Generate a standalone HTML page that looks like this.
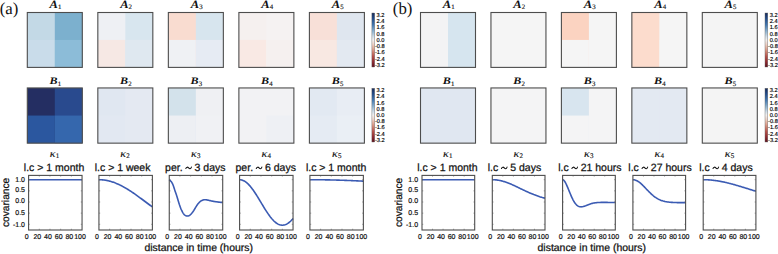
<!DOCTYPE html>
<html><head><meta charset="utf-8"><title>figure</title>
<style>
html,body{margin:0;padding:0;background:#fff;}
body{width:778px;height:254px;overflow:hidden;}
svg{display:block;}
text{fill:#111;text-rendering:geometricPrecision;}
.pl{font-family:"Liberation Serif", serif;font-size:16.8px;}
.ml{font-family:"Liberation Serif", serif;font-weight:bold;font-style:italic;font-size:10.6px;}
.sub{font-family:"Liberation Serif", serif;font-weight:normal;font-style:normal;font-size:6.8px;stroke:#111;stroke-width:0.15px;}
.kl{font-family:"Liberation Serif", serif;font-style:italic;font-size:10.4px;stroke:#111;stroke-width:0.12px;}
.ksub{font-family:"Liberation Serif", serif;font-style:normal;font-size:7.0px;stroke:#111;stroke-width:0.15px;}
.tt{font-family:"Liberation Sans", sans-serif;font-size:10.5px;stroke:#111;stroke-width:0.25px;}
.ghost{fill:none;stroke:none;}
.tl{font-family:"Liberation Sans", sans-serif;font-size:7px;stroke:#111;stroke-width:0.2px;}
.cb{font-family:"Liberation Sans", sans-serif;font-size:5.7px;fill:#000;stroke:#000;stroke-width:0.15px;}
.al{font-family:"Liberation Sans", sans-serif;font-size:10.2px;stroke:#111;stroke-width:0.25px;}
</style></head>
<body>
<svg width="778" height="254" viewBox="0 0 778 254">
<defs>
<linearGradient id="cb0" x1="0" y1="0" x2="0" y2="1"><stop offset="0" stop-color="#172a58"/><stop offset="0.1" stop-color="#214a88"/><stop offset="0.22" stop-color="#4177b0"/><stop offset="0.34" stop-color="#8db3d0"/><stop offset="0.44" stop-color="#d3dfe9"/><stop offset="0.5" stop-color="#f2f0ef"/><stop offset="0.58" stop-color="#efd2c6"/><stop offset="0.68" stop-color="#dc9c88"/><stop offset="0.8" stop-color="#b8534a"/><stop offset="0.9" stop-color="#922c31"/><stop offset="1" stop-color="#5c111e"/></linearGradient>
<linearGradient id="cb1" x1="0" y1="0" x2="0" y2="1"><stop offset="0" stop-color="#172a58"/><stop offset="0.1" stop-color="#214a88"/><stop offset="0.22" stop-color="#4177b0"/><stop offset="0.34" stop-color="#8db3d0"/><stop offset="0.44" stop-color="#d3dfe9"/><stop offset="0.5" stop-color="#f2f0ef"/><stop offset="0.58" stop-color="#efd2c6"/><stop offset="0.68" stop-color="#dc9c88"/><stop offset="0.8" stop-color="#b8534a"/><stop offset="0.9" stop-color="#922c31"/><stop offset="1" stop-color="#5c111e"/></linearGradient>
<linearGradient id="cb2" x1="0" y1="0" x2="0" y2="1"><stop offset="0" stop-color="#172a58"/><stop offset="0.1" stop-color="#214a88"/><stop offset="0.22" stop-color="#4177b0"/><stop offset="0.34" stop-color="#8db3d0"/><stop offset="0.44" stop-color="#d3dfe9"/><stop offset="0.5" stop-color="#f2f0ef"/><stop offset="0.58" stop-color="#efd2c6"/><stop offset="0.68" stop-color="#dc9c88"/><stop offset="0.8" stop-color="#b8534a"/><stop offset="0.9" stop-color="#922c31"/><stop offset="1" stop-color="#5c111e"/></linearGradient>
<linearGradient id="cb3" x1="0" y1="0" x2="0" y2="1"><stop offset="0" stop-color="#172a58"/><stop offset="0.1" stop-color="#214a88"/><stop offset="0.22" stop-color="#4177b0"/><stop offset="0.34" stop-color="#8db3d0"/><stop offset="0.44" stop-color="#d3dfe9"/><stop offset="0.5" stop-color="#f2f0ef"/><stop offset="0.58" stop-color="#efd2c6"/><stop offset="0.68" stop-color="#dc9c88"/><stop offset="0.8" stop-color="#b8534a"/><stop offset="0.9" stop-color="#922c31"/><stop offset="1" stop-color="#5c111e"/></linearGradient>
</defs>
<rect width="778" height="254" fill="#fff"/>
<text x="-0.3" y="14.0" class="pl">(a)</text>
<rect x="27.3" y="12.5" width="55" height="54.9" fill="#c3d9e6"/>
<rect x="54.8" y="12.5" width="27.5" height="54.9" fill="#7cb0ce"/>
<rect x="27.3" y="39.95" width="27.5" height="27.45" fill="#c9dcea"/>
<rect x="54.8" y="39.95" width="27.5" height="27.45" fill="#8cbcd8"/>
<rect x="27.3" y="12.5" width="55" height="54.9" fill="none" stroke="#4d4d4d" stroke-width="1.1"/>
<text transform="translate(53.8,7.6) scale(1.12,1)" class="ml" style="font-size:11.2px" text-anchor="middle">A</text>
<text x="59.8" y="8.7" class="sub" text-anchor="middle">1</text>
<rect x="97.83" y="12.5" width="55" height="54.9" fill="#eef0f4"/>
<rect x="125.33" y="12.5" width="27.5" height="54.9" fill="#d8e6ef"/>
<rect x="97.83" y="39.95" width="27.5" height="27.45" fill="#f6e8e4"/>
<rect x="125.33" y="39.95" width="27.5" height="27.45" fill="#dfe8f0"/>
<rect x="97.83" y="12.5" width="55" height="54.9" fill="none" stroke="#4d4d4d" stroke-width="1.1"/>
<text transform="translate(124.33,7.6) scale(1.12,1)" class="ml" style="font-size:11.2px" text-anchor="middle">A</text>
<text x="130.32" y="8.7" class="sub" text-anchor="middle">2</text>
<rect x="168.35" y="12.5" width="55" height="54.9" fill="#f9dcd0"/>
<rect x="195.85" y="12.5" width="27.5" height="54.9" fill="#d7e5ee"/>
<rect x="168.35" y="39.95" width="27.5" height="27.45" fill="#eff1f4"/>
<rect x="195.85" y="39.95" width="27.5" height="27.45" fill="#e6ebf3"/>
<rect x="168.35" y="12.5" width="55" height="54.9" fill="none" stroke="#4d4d4d" stroke-width="1.1"/>
<text transform="translate(194.85,7.6) scale(1.12,1)" class="ml" style="font-size:11.2px" text-anchor="middle">A</text>
<text x="200.85" y="8.7" class="sub" text-anchor="middle">3</text>
<rect x="238.88" y="12.5" width="55" height="54.9" fill="#f5f0ef"/>
<rect x="266.38" y="12.5" width="27.5" height="54.9" fill="#f5f2f2"/>
<rect x="238.88" y="39.95" width="27.5" height="27.45" fill="#f9e9e4"/>
<rect x="266.38" y="39.95" width="27.5" height="27.45" fill="#f5f0ef"/>
<rect x="238.88" y="12.5" width="55" height="54.9" fill="none" stroke="#4d4d4d" stroke-width="1.1"/>
<text transform="translate(265.38,7.6) scale(1.12,1)" class="ml" style="font-size:11.2px" text-anchor="middle">A</text>
<text x="271.38" y="8.7" class="sub" text-anchor="middle">4</text>
<rect x="309.4" y="12.5" width="55" height="54.9" fill="#f8e0d8"/>
<rect x="336.9" y="12.5" width="27.5" height="54.9" fill="#dfe6ef"/>
<rect x="309.4" y="39.95" width="27.5" height="27.45" fill="#f8e8e2"/>
<rect x="336.9" y="39.95" width="27.5" height="27.45" fill="#e3e9f1"/>
<rect x="309.4" y="12.5" width="55" height="54.9" fill="none" stroke="#4d4d4d" stroke-width="1.1"/>
<text transform="translate(335.9,7.6) scale(1.12,1)" class="ml" style="font-size:11.2px" text-anchor="middle">A</text>
<text x="341.9" y="8.7" class="sub" text-anchor="middle">5</text>
<rect x="371.9" y="13" width="2.8" height="54" fill="url(#cb0)" stroke="#666" stroke-width="0.4"/>
<text x="376.6" y="16.95" class="cb">3.2</text>
<text x="376.6" y="23.17" class="cb">2.4</text>
<text x="376.6" y="29.4" class="cb">1.6</text>
<text x="376.6" y="35.62" class="cb">0.8</text>
<text x="376.6" y="41.85" class="cb">0.0</text>
<text x="374.9" y="48.08" class="cb">-0.8</text>
<text x="374.9" y="54.3" class="cb">-1.6</text>
<text x="374.9" y="60.52" class="cb">-2.4</text>
<text x="374.9" y="66.75" class="cb">-3.2</text>
<rect x="27.3" y="87.95" width="55" height="55.2" fill="#242e62"/>
<rect x="54.8" y="87.95" width="27.5" height="55.2" fill="#294a8e"/>
<rect x="27.3" y="115.55" width="27.5" height="27.6" fill="#2b579f"/>
<rect x="54.8" y="115.55" width="27.5" height="27.6" fill="#3567ad"/>
<rect x="27.3" y="87.95" width="55" height="55.2" fill="none" stroke="#4d4d4d" stroke-width="1.1"/>
<text transform="translate(53.55,83.5) scale(1.22,1)" class="ml" style="font-size:9.9px" text-anchor="middle">B</text>
<text x="59.5" y="85.5" class="sub" text-anchor="middle">1</text>
<rect x="97.83" y="87.95" width="55" height="55.2" fill="#e0e7f1"/>
<rect x="125.33" y="87.95" width="27.5" height="55.2" fill="#e4e9f2"/>
<rect x="97.83" y="115.55" width="27.5" height="27.6" fill="#e2e8f2"/>
<rect x="125.33" y="115.55" width="27.5" height="27.6" fill="#e4e9f2"/>
<rect x="97.83" y="87.95" width="55" height="55.2" fill="none" stroke="#4d4d4d" stroke-width="1.1"/>
<text transform="translate(124.08,83.5) scale(1.22,1)" class="ml" style="font-size:9.9px" text-anchor="middle">B</text>
<text x="130.03" y="85.5" class="sub" text-anchor="middle">2</text>
<rect x="168.35" y="87.95" width="55" height="55.2" fill="#d3e2eb"/>
<rect x="195.85" y="87.95" width="27.5" height="55.2" fill="#eff0f3"/>
<rect x="168.35" y="115.55" width="27.5" height="27.6" fill="#edeff3"/>
<rect x="195.85" y="115.55" width="27.5" height="27.6" fill="#f0f1f4"/>
<rect x="168.35" y="87.95" width="55" height="55.2" fill="none" stroke="#4d4d4d" stroke-width="1.1"/>
<text transform="translate(194.6,83.5) scale(1.22,1)" class="ml" style="font-size:9.9px" text-anchor="middle">B</text>
<text x="200.55" y="85.5" class="sub" text-anchor="middle">3</text>
<rect x="238.88" y="87.95" width="55" height="55.2" fill="#f2f2f4"/>
<rect x="266.38" y="87.95" width="27.5" height="55.2" fill="#f2f2f4"/>
<rect x="238.88" y="115.55" width="27.5" height="27.6" fill="#f2f2f4"/>
<rect x="266.38" y="115.55" width="27.5" height="27.6" fill="#eef0f4"/>
<rect x="238.88" y="87.95" width="55" height="55.2" fill="none" stroke="#4d4d4d" stroke-width="1.1"/>
<text transform="translate(265.12,83.5) scale(1.22,1)" class="ml" style="font-size:9.9px" text-anchor="middle">B</text>
<text x="271.07" y="85.5" class="sub" text-anchor="middle">4</text>
<rect x="309.4" y="87.95" width="55" height="55.2" fill="#e2e9f2"/>
<rect x="336.9" y="87.95" width="27.5" height="55.2" fill="#e8edf4"/>
<rect x="309.4" y="115.55" width="27.5" height="27.6" fill="#e5ebf3"/>
<rect x="336.9" y="115.55" width="27.5" height="27.6" fill="#eaeff5"/>
<rect x="309.4" y="87.95" width="55" height="55.2" fill="none" stroke="#4d4d4d" stroke-width="1.1"/>
<text transform="translate(335.65,83.5) scale(1.22,1)" class="ml" style="font-size:9.9px" text-anchor="middle">B</text>
<text x="341.6" y="85.5" class="sub" text-anchor="middle">5</text>
<rect x="371.9" y="88.3" width="2.8" height="53.7" fill="url(#cb1)" stroke="#666" stroke-width="0.4"/>
<text x="376.6" y="92.25" class="cb">3.2</text>
<text x="376.6" y="98.44" class="cb">2.4</text>
<text x="376.6" y="104.62" class="cb">1.6</text>
<text x="376.6" y="110.81" class="cb">0.8</text>
<text x="376.6" y="117" class="cb">0.0</text>
<text x="374.9" y="123.19" class="cb">-0.8</text>
<text x="374.9" y="129.38" class="cb">-1.6</text>
<text x="374.9" y="135.56" class="cb">-2.4</text>
<text x="374.9" y="141.75" class="cb">-3.2</text>
<text transform="translate(52.7,156.7) scale(1.15,1)" class="kl" text-anchor="middle">κ</text>
<text x="57.6" y="158.3" class="ksub" text-anchor="middle">1</text>
<text x="54.05" y="170.9" class="tt" text-anchor="middle">l.c &gt; 1 month</text>
<path d="M28.6,179.7 L29.27,179.7 L29.94,179.7 L30.6,179.7 L31.27,179.7 L31.94,179.7 L32.61,179.7 L33.28,179.7 L33.95,179.7 L34.61,179.7 L35.28,179.7 L35.95,179.7 L36.62,179.7 L37.29,179.7 L37.95,179.7 L38.62,179.7 L39.29,179.7 L39.96,179.7 L40.63,179.7 L41.29,179.7 L41.96,179.7 L42.63,179.7 L43.3,179.7 L43.97,179.7 L44.64,179.7 L45.3,179.7 L45.97,179.7 L46.64,179.7 L47.31,179.7 L47.98,179.7 L48.64,179.7 L49.31,179.7 L49.98,179.7 L50.65,179.7 L51.32,179.7 L51.98,179.7 L52.65,179.7 L53.32,179.7 L53.99,179.7 L54.66,179.7 L55.33,179.7 L55.99,179.7 L56.66,179.7 L57.33,179.7 L58,179.7 L58.67,179.7 L59.33,179.7 L60,179.7 L60.67,179.7 L61.34,179.7 L62.01,179.7 L62.67,179.7 L63.34,179.7 L64.01,179.7 L64.68,179.7 L65.35,179.7 L66.02,179.7 L66.68,179.7 L67.35,179.7 L68.02,179.7 L68.69,179.7 L69.36,179.7 L70.02,179.7 L70.69,179.7 L71.36,179.7 L72.03,179.7 L72.7,179.7 L73.36,179.7 L74.03,179.7 L74.7,179.7 L75.37,179.7 L76.04,179.7 L76.7,179.7 L77.37,179.7 L78.04,179.7 L78.71,179.7 L79.38,179.7 L80.05,179.7 L80.71,179.7 L81.38,179.7 L82.05,179.7" fill="none" stroke="#3b5bb3" stroke-width="1.6" stroke-linejoin="round"/>
<path d="M39.29,230 v-1.3 M39.29,175.4 v1.3 M49.98,230 v-1.3 M49.98,175.4 v1.3 M60.67,230 v-1.3 M60.67,175.4 v1.3 M71.36,230 v-1.3 M71.36,175.4 v1.3 M28.6,190.85 h1.3 M82.05,190.85 h-1.3 M28.6,202 h1.3 M82.05,202 h-1.3 M28.6,213.15 h1.3 M82.05,213.15 h-1.3 M28.6,179.7 h1.3 M82.05,179.7 h-1.3 M28.6,224.3 h1.3 M82.05,224.3 h-1.3" stroke="#777" stroke-width="0.6" fill="none"/>
<rect x="28.6" y="175.4" width="53.45" height="54.6" fill="none" stroke="#4d4d4d" stroke-width="1.1"/>
<text x="26.6" y="238.6" class="tl" text-anchor="middle">0</text>
<text x="37.29" y="238.6" class="tl" text-anchor="middle">20</text>
<text x="47.98" y="238.6" class="tl" text-anchor="middle">40</text>
<text x="58.67" y="238.6" class="tl" text-anchor="middle">60</text>
<text x="69.36" y="238.6" class="tl" text-anchor="middle">80</text>
<text x="80.05" y="238.6" class="tl" text-anchor="middle">100</text>
<text transform="translate(123.23,156.7) scale(1.15,1)" class="kl" text-anchor="middle">κ</text>
<text x="128.12" y="158.3" class="ksub" text-anchor="middle">2</text>
<text x="122.6" y="170.9" class="tt" text-anchor="middle">l.c &gt; 1 week</text>
<path d="M98.93,179.7 L99.6,179.71 L100.27,179.72 L100.93,179.75 L101.6,179.79 L102.27,179.84 L102.94,179.9 L103.61,179.97 L104.28,180.06 L104.94,180.15 L105.61,180.26 L106.28,180.38 L106.95,180.5 L107.62,180.64 L108.28,180.79 L108.95,180.95 L109.62,181.12 L110.29,181.3 L110.96,181.49 L111.62,181.7 L112.29,181.91 L112.96,182.13 L113.63,182.36 L114.3,182.6 L114.97,182.86 L115.63,183.12 L116.3,183.39 L116.97,183.67 L117.64,183.96 L118.31,184.26 L118.97,184.57 L119.64,184.88 L120.31,185.21 L120.98,185.54 L121.65,185.88 L122.31,186.23 L122.98,186.59 L123.65,186.95 L124.32,187.33 L124.99,187.71 L125.66,188.1 L126.32,188.49 L126.99,188.89 L127.66,189.3 L128.33,189.71 L129,190.14 L129.66,190.56 L130.33,190.99 L131,191.43 L131.67,191.88 L132.34,192.32 L133,192.78 L133.67,193.24 L134.34,193.7 L135.01,194.16 L135.68,194.63 L136.34,195.11 L137.01,195.59 L137.68,196.07 L138.35,196.55 L139.02,197.04 L139.69,197.53 L140.35,198.02 L141.02,198.51 L141.69,199.01 L142.36,199.5 L143.03,200 L143.69,200.5 L144.36,201 L145.03,201.5 L145.7,202 L146.37,202.5 L147.03,203 L147.7,203.5 L148.37,204 L149.04,204.5 L149.71,204.99 L150.38,205.49 L151.04,205.98 L151.71,206.47 L152.38,206.96" fill="none" stroke="#3b5bb3" stroke-width="1.6" stroke-linejoin="round"/>
<path d="M109.62,230 v-1.3 M109.62,175.4 v1.3 M120.31,230 v-1.3 M120.31,175.4 v1.3 M131,230 v-1.3 M131,175.4 v1.3 M141.69,230 v-1.3 M141.69,175.4 v1.3 M98.93,190.85 h1.3 M152.38,190.85 h-1.3 M98.93,202 h1.3 M152.38,202 h-1.3 M98.93,213.15 h1.3 M152.38,213.15 h-1.3 M98.93,179.7 h1.3 M152.38,179.7 h-1.3 M98.93,224.3 h1.3 M152.38,224.3 h-1.3" stroke="#777" stroke-width="0.6" fill="none"/>
<rect x="98.93" y="175.4" width="53.45" height="54.6" fill="none" stroke="#4d4d4d" stroke-width="1.1"/>
<text x="96.93" y="238.6" class="tl" text-anchor="middle">0</text>
<text x="107.62" y="238.6" class="tl" text-anchor="middle">20</text>
<text x="118.31" y="238.6" class="tl" text-anchor="middle">40</text>
<text x="129" y="238.6" class="tl" text-anchor="middle">60</text>
<text x="139.69" y="238.6" class="tl" text-anchor="middle">80</text>
<text x="150.38" y="238.6" class="tl" text-anchor="middle">100</text>
<text transform="translate(193.75,156.7) scale(1.15,1)" class="kl" text-anchor="middle">κ</text>
<text x="198.65" y="158.3" class="ksub" text-anchor="middle">3</text>
<path d="M185.82,168.5 C186.52,166.6 187.82,167 188.62,167.9 S190.62,169.4 191.42,167.1" fill="none" stroke="#111" stroke-width="1.05" stroke-linecap="round"/>
<text x="195.3" y="170.9" class="tt" text-anchor="middle">per. <tspan class="ghost">~</tspan> 3 days</text>
<path d="M169.26,179.6 L169.58,179.93 L170.04,180.38 L170.57,180.92 L171.1,181.5 L171.56,182.1 L171.94,182.69 L172.28,183.31 L172.61,183.97 L172.93,184.69 L173.26,185.5 L173.6,186.42 L173.94,187.45 L174.27,188.53 L174.61,189.63 L174.96,190.7 L175.32,191.73 L175.68,192.76 L176.04,193.78 L176.4,194.83 L176.76,195.9 L177.11,197.02 L177.45,198.17 L177.78,199.33 L178.12,200.48 L178.46,201.6 L178.8,202.69 L179.14,203.76 L179.47,204.82 L179.81,205.83 L180.16,206.8 L180.51,207.71 L180.85,208.58 L181.2,209.41 L181.57,210.21 L181.96,211 L182.38,211.79 L182.82,212.59 L183.27,213.35 L183.75,214.03 L184.26,214.6 L184.81,215.06 L185.39,215.42 L185.99,215.7 L186.59,215.9 L187.16,216 L187.71,216 L188.24,215.91 L188.76,215.73 L189.27,215.48 L189.76,215.2 L190.23,214.86 L190.68,214.44 L191.12,213.98 L191.55,213.49 L191.96,213 L192.36,212.52 L192.74,212.02 L193.11,211.5 L193.48,210.96 L193.86,210.4 L194.24,209.8 L194.61,209.16 L194.99,208.51 L195.37,207.85 L195.76,207.2 L196.16,206.55 L196.58,205.88 L197,205.22 L197.42,204.59 L197.86,204 L198.31,203.45 L198.77,202.93 L199.23,202.45 L199.7,202 L200.16,201.6 L200.62,201.24 L201.08,200.92 L201.53,200.65 L201.99,200.41 L202.46,200.2 L202.93,200.03 L203.41,199.9 L203.9,199.8 L204.38,199.73 L204.86,199.7 L205.32,199.7 L205.77,199.74 L206.22,199.81 L206.71,199.9 L207.26,200 L207.89,200.13 L208.58,200.29 L209.3,200.46 L210.04,200.64 L210.76,200.8 L211.48,200.95 L212.2,201.1 L212.92,201.24 L213.64,201.37 L214.36,201.5 L215.04,201.61 L215.7,201.71 L216.36,201.81 L217.07,201.9 L217.86,202 L218.83,202.11 L219.95,202.22 L221.09,202.34 L222.07,202.43 L222.76,202.5" fill="none" stroke="#3b5bb3" stroke-width="1.6" stroke-linejoin="round"/>
<path d="M179.95,230 v-1.3 M179.95,175.4 v1.3 M190.64,230 v-1.3 M190.64,175.4 v1.3 M201.33,230 v-1.3 M201.33,175.4 v1.3 M212.02,230 v-1.3 M212.02,175.4 v1.3 M169.26,190.85 h1.3 M222.71,190.85 h-1.3 M169.26,202 h1.3 M222.71,202 h-1.3 M169.26,213.15 h1.3 M222.71,213.15 h-1.3 M169.26,179.7 h1.3 M222.71,179.7 h-1.3 M169.26,224.3 h1.3 M222.71,224.3 h-1.3" stroke="#777" stroke-width="0.6" fill="none"/>
<rect x="169.26" y="175.4" width="53.45" height="54.6" fill="none" stroke="#4d4d4d" stroke-width="1.1"/>
<text x="167.26" y="238.6" class="tl" text-anchor="middle">0</text>
<text x="177.95" y="238.6" class="tl" text-anchor="middle">20</text>
<text x="188.64" y="238.6" class="tl" text-anchor="middle">40</text>
<text x="199.33" y="238.6" class="tl" text-anchor="middle">60</text>
<text x="210.02" y="238.6" class="tl" text-anchor="middle">80</text>
<text x="220.71" y="238.6" class="tl" text-anchor="middle">100</text>
<text transform="translate(264.27,156.7) scale(1.15,1)" class="kl" text-anchor="middle">κ</text>
<text x="269.18" y="158.3" class="ksub" text-anchor="middle">4</text>
<path d="M256.27,168.5 C256.97,166.6 258.27,167 259.07,167.9 S261.07,169.4 261.87,167.1" fill="none" stroke="#111" stroke-width="1.05" stroke-linecap="round"/>
<text x="265.75" y="170.9" class="tt" text-anchor="middle">per. <tspan class="ghost">~</tspan> 6 days</text>
<path d="M239.59,179.7 L240.26,179.73 L240.93,179.81 L241.59,179.95 L242.26,180.14 L242.93,180.38 L243.6,180.68 L244.27,181.03 L244.94,181.43 L245.6,181.88 L246.27,182.39 L246.94,182.94 L247.61,183.53 L248.28,184.18 L248.94,184.86 L249.61,185.59 L250.28,186.36 L250.95,187.17 L251.62,188.02 L252.28,188.9 L252.95,189.81 L253.62,190.75 L254.29,191.72 L254.96,192.72 L255.62,193.74 L256.29,194.78 L256.96,195.84 L257.63,196.92 L258.3,198.01 L258.97,199.11 L259.63,200.22 L260.3,201.33 L260.97,202.45 L261.64,203.56 L262.31,204.68 L262.97,205.78 L263.64,206.88 L264.31,207.97 L264.98,209.05 L265.65,210.11 L266.31,211.15 L266.98,212.17 L267.65,213.17 L268.32,214.14 L268.99,215.08 L269.66,216 L270.32,216.88 L270.99,217.72 L271.66,218.53 L272.33,219.3 L273,220.03 L273.66,220.72 L274.33,221.36 L275,221.96 L275.67,222.51 L276.34,223.01 L277,223.46 L277.67,223.86 L278.34,224.21 L279.01,224.51 L279.68,224.75 L280.35,224.95 L281.01,225.08 L281.68,225.16 L282.35,225.19 L283.02,225.16 L283.69,225.08 L284.35,224.95 L285.02,224.75 L285.69,224.51 L286.36,224.21 L287.03,223.86 L287.69,223.46 L288.36,223.01 L289.03,222.51 L289.7,221.96 L290.37,221.36 L291.04,220.72 L291.7,220.03 L292.37,219.3 L293.04,218.53" fill="none" stroke="#3b5bb3" stroke-width="1.6" stroke-linejoin="round"/>
<path d="M250.28,230 v-1.3 M250.28,175.4 v1.3 M260.97,230 v-1.3 M260.97,175.4 v1.3 M271.66,230 v-1.3 M271.66,175.4 v1.3 M282.35,230 v-1.3 M282.35,175.4 v1.3 M239.59,190.85 h1.3 M293.04,190.85 h-1.3 M239.59,202 h1.3 M293.04,202 h-1.3 M239.59,213.15 h1.3 M293.04,213.15 h-1.3 M239.59,179.7 h1.3 M293.04,179.7 h-1.3 M239.59,224.3 h1.3 M293.04,224.3 h-1.3" stroke="#777" stroke-width="0.6" fill="none"/>
<rect x="239.59" y="175.4" width="53.45" height="54.6" fill="none" stroke="#4d4d4d" stroke-width="1.1"/>
<text x="237.59" y="238.6" class="tl" text-anchor="middle">0</text>
<text x="248.28" y="238.6" class="tl" text-anchor="middle">20</text>
<text x="258.97" y="238.6" class="tl" text-anchor="middle">40</text>
<text x="269.66" y="238.6" class="tl" text-anchor="middle">60</text>
<text x="280.35" y="238.6" class="tl" text-anchor="middle">80</text>
<text x="291.04" y="238.6" class="tl" text-anchor="middle">100</text>
<text transform="translate(334.8,156.7) scale(1.15,1)" class="kl" text-anchor="middle">κ</text>
<text x="339.7" y="158.3" class="ksub" text-anchor="middle">5</text>
<text x="336.1" y="170.9" class="tt" text-anchor="middle">l.c &gt; 1 month</text>
<path d="M309.92,179.7 L310.59,179.7 L311.26,179.7 L311.92,179.7 L312.59,179.7 L313.26,179.71 L313.93,179.71 L314.6,179.71 L315.27,179.72 L315.93,179.72 L316.6,179.72 L317.27,179.73 L317.94,179.73 L318.61,179.74 L319.27,179.75 L319.94,179.75 L320.61,179.76 L321.28,179.77 L321.95,179.78 L322.61,179.79 L323.28,179.8 L323.95,179.81 L324.62,179.82 L325.29,179.83 L325.96,179.84 L326.62,179.85 L327.29,179.86 L327.96,179.87 L328.63,179.89 L329.3,179.9 L329.96,179.91 L330.63,179.93 L331.3,179.94 L331.97,179.96 L332.64,179.97 L333.3,179.99 L333.97,180.01 L334.64,180.02 L335.31,180.04 L335.98,180.06 L336.65,180.08 L337.31,180.1 L337.98,180.12 L338.65,180.14 L339.32,180.16 L339.99,180.18 L340.65,180.2 L341.32,180.22 L341.99,180.24 L342.66,180.27 L343.33,180.29 L343.99,180.31 L344.66,180.34 L345.33,180.36 L346,180.39 L346.67,180.41 L347.34,180.44 L348,180.46 L348.67,180.49 L349.34,180.52 L350.01,180.54 L350.68,180.57 L351.34,180.6 L352.01,180.63 L352.68,180.66 L353.35,180.69 L354.02,180.72 L354.68,180.75 L355.35,180.78 L356.02,180.81 L356.69,180.84 L357.36,180.87 L358.03,180.91 L358.69,180.94 L359.36,180.97 L360.03,181 L360.7,181.04 L361.37,181.07 L362.03,181.11 L362.7,181.14 L363.37,181.18" fill="none" stroke="#3b5bb3" stroke-width="1.6" stroke-linejoin="round"/>
<path d="M320.61,230 v-1.3 M320.61,175.4 v1.3 M331.3,230 v-1.3 M331.3,175.4 v1.3 M341.99,230 v-1.3 M341.99,175.4 v1.3 M352.68,230 v-1.3 M352.68,175.4 v1.3 M309.92,190.85 h1.3 M363.37,190.85 h-1.3 M309.92,202 h1.3 M363.37,202 h-1.3 M309.92,213.15 h1.3 M363.37,213.15 h-1.3 M309.92,179.7 h1.3 M363.37,179.7 h-1.3 M309.92,224.3 h1.3 M363.37,224.3 h-1.3" stroke="#777" stroke-width="0.6" fill="none"/>
<rect x="309.92" y="175.4" width="53.45" height="54.6" fill="none" stroke="#4d4d4d" stroke-width="1.1"/>
<text x="307.92" y="238.6" class="tl" text-anchor="middle">0</text>
<text x="318.61" y="238.6" class="tl" text-anchor="middle">20</text>
<text x="329.3" y="238.6" class="tl" text-anchor="middle">40</text>
<text x="339.99" y="238.6" class="tl" text-anchor="middle">60</text>
<text x="350.68" y="238.6" class="tl" text-anchor="middle">80</text>
<text x="361.37" y="238.6" class="tl" text-anchor="middle">100</text>
<text x="25" y="181.6" class="tl" text-anchor="end">1.0</text>
<text x="25" y="192.1" class="tl" text-anchor="end">0.5</text>
<text x="25" y="203.1" class="tl" text-anchor="end">0.0</text>
<text x="25" y="214.7" class="tl" text-anchor="end">0.5</text>
<text x="25" y="226.5" class="tl" text-anchor="end">-1.0</text>
<text transform="translate(8.6,202.4) rotate(-90)" class="al" text-anchor="middle">covariance</text>
<text x="198.7" y="251.4" class="al" style="font-size:10.45px" text-anchor="middle">distance in time (hours)</text>
<text x="392.8" y="14.0" class="pl">(b)</text>
<rect x="420.5" y="12.5" width="55" height="54.9" fill="#f3f3f4"/>
<rect x="448" y="12.5" width="27.5" height="54.9" fill="#d6e5ef"/>
<rect x="420.5" y="39.95" width="27.5" height="27.45" fill="#f3f3f4"/>
<rect x="448" y="39.95" width="27.5" height="27.45" fill="#d6e5ef"/>
<rect x="420.5" y="12.5" width="55" height="54.9" fill="none" stroke="#4d4d4d" stroke-width="1.1"/>
<text transform="translate(447,7.6) scale(1.12,1)" class="ml" style="font-size:11.2px" text-anchor="middle">A</text>
<text x="453" y="8.7" class="sub" text-anchor="middle">1</text>
<rect x="490.95" y="12.5" width="55" height="54.9" fill="#f5f5f5"/>
<rect x="518.45" y="12.5" width="27.5" height="54.9" fill="#f5f5f5"/>
<rect x="490.95" y="39.95" width="27.5" height="27.45" fill="#f5f5f5"/>
<rect x="518.45" y="39.95" width="27.5" height="27.45" fill="#f5f5f5"/>
<rect x="490.95" y="12.5" width="55" height="54.9" fill="none" stroke="#4d4d4d" stroke-width="1.1"/>
<text transform="translate(517.45,7.6) scale(1.12,1)" class="ml" style="font-size:11.2px" text-anchor="middle">A</text>
<text x="523.45" y="8.7" class="sub" text-anchor="middle">2</text>
<rect x="561.4" y="12.5" width="55" height="54.9" fill="#fbd3c1"/>
<rect x="588.9" y="12.5" width="27.5" height="54.9" fill="#f5f5f5"/>
<rect x="561.4" y="39.95" width="27.5" height="27.45" fill="#f5f5f5"/>
<rect x="588.9" y="39.95" width="27.5" height="27.45" fill="#f5f5f5"/>
<rect x="561.4" y="12.5" width="55" height="54.9" fill="none" stroke="#4d4d4d" stroke-width="1.1"/>
<text transform="translate(587.9,7.6) scale(1.12,1)" class="ml" style="font-size:11.2px" text-anchor="middle">A</text>
<text x="593.9" y="8.7" class="sub" text-anchor="middle">3</text>
<rect x="631.85" y="12.5" width="55" height="54.9" fill="#fcdccd"/>
<rect x="659.35" y="12.5" width="27.5" height="54.9" fill="#f5f5f5"/>
<rect x="631.85" y="39.95" width="27.5" height="27.45" fill="#fcdccd"/>
<rect x="659.35" y="39.95" width="27.5" height="27.45" fill="#f5f5f5"/>
<rect x="631.85" y="12.5" width="55" height="54.9" fill="none" stroke="#4d4d4d" stroke-width="1.1"/>
<text transform="translate(658.35,7.6) scale(1.12,1)" class="ml" style="font-size:11.2px" text-anchor="middle">A</text>
<text x="664.35" y="8.7" class="sub" text-anchor="middle">4</text>
<rect x="702.3" y="12.5" width="55" height="54.9" fill="#f4f4f4"/>
<rect x="729.8" y="12.5" width="27.5" height="54.9" fill="#f4f4f4"/>
<rect x="702.3" y="39.95" width="27.5" height="27.45" fill="#f4f4f4"/>
<rect x="729.8" y="39.95" width="27.5" height="27.45" fill="#f4f4f4"/>
<rect x="702.3" y="12.5" width="55" height="54.9" fill="none" stroke="#4d4d4d" stroke-width="1.1"/>
<text transform="translate(728.8,7.6) scale(1.12,1)" class="ml" style="font-size:11.2px" text-anchor="middle">A</text>
<text x="734.8" y="8.7" class="sub" text-anchor="middle">5</text>
<rect x="765" y="13" width="2.8" height="54" fill="url(#cb2)" stroke="#666" stroke-width="0.4"/>
<text x="769.7" y="16.95" class="cb">3.2</text>
<text x="769.7" y="23.17" class="cb">2.4</text>
<text x="769.7" y="29.4" class="cb">1.6</text>
<text x="769.7" y="35.62" class="cb">0.8</text>
<text x="769.7" y="41.85" class="cb">0.0</text>
<text x="768" y="48.08" class="cb">-0.8</text>
<text x="768" y="54.3" class="cb">-1.6</text>
<text x="768" y="60.52" class="cb">-2.4</text>
<text x="768" y="66.75" class="cb">-3.2</text>
<rect x="420.5" y="87.95" width="55" height="55.2" fill="#e0e7f1"/>
<rect x="448" y="87.95" width="27.5" height="55.2" fill="#e0e7f1"/>
<rect x="420.5" y="115.55" width="27.5" height="27.6" fill="#e0e7f1"/>
<rect x="448" y="115.55" width="27.5" height="27.6" fill="#e0e7f1"/>
<rect x="420.5" y="87.95" width="55" height="55.2" fill="none" stroke="#4d4d4d" stroke-width="1.1"/>
<text transform="translate(446.75,83.5) scale(1.22,1)" class="ml" style="font-size:9.9px" text-anchor="middle">B</text>
<text x="452.7" y="85.5" class="sub" text-anchor="middle">1</text>
<rect x="490.95" y="87.95" width="55" height="55.2" fill="#f4f4f5"/>
<rect x="518.45" y="87.95" width="27.5" height="55.2" fill="#f4f4f5"/>
<rect x="490.95" y="115.55" width="27.5" height="27.6" fill="#f4f4f5"/>
<rect x="518.45" y="115.55" width="27.5" height="27.6" fill="#f4f4f5"/>
<rect x="490.95" y="87.95" width="55" height="55.2" fill="none" stroke="#4d4d4d" stroke-width="1.1"/>
<text transform="translate(517.2,83.5) scale(1.22,1)" class="ml" style="font-size:9.9px" text-anchor="middle">B</text>
<text x="523.15" y="85.5" class="sub" text-anchor="middle">2</text>
<rect x="561.4" y="87.95" width="55" height="55.2" fill="#d8e5ef"/>
<rect x="588.9" y="87.95" width="27.5" height="55.2" fill="#f4f4f5"/>
<rect x="561.4" y="115.55" width="27.5" height="27.6" fill="#f4f4f5"/>
<rect x="588.9" y="115.55" width="27.5" height="27.6" fill="#f4f4f5"/>
<rect x="561.4" y="87.95" width="55" height="55.2" fill="none" stroke="#4d4d4d" stroke-width="1.1"/>
<text transform="translate(587.65,83.5) scale(1.22,1)" class="ml" style="font-size:9.9px" text-anchor="middle">B</text>
<text x="593.6" y="85.5" class="sub" text-anchor="middle">3</text>
<rect x="631.85" y="87.95" width="55" height="55.2" fill="#e3e9f2"/>
<rect x="659.35" y="87.95" width="27.5" height="55.2" fill="#e3e9f2"/>
<rect x="631.85" y="115.55" width="27.5" height="27.6" fill="#e3e9f2"/>
<rect x="659.35" y="115.55" width="27.5" height="27.6" fill="#e3e9f2"/>
<rect x="631.85" y="87.95" width="55" height="55.2" fill="none" stroke="#4d4d4d" stroke-width="1.1"/>
<text transform="translate(658.1,83.5) scale(1.22,1)" class="ml" style="font-size:9.9px" text-anchor="middle">B</text>
<text x="664.05" y="85.5" class="sub" text-anchor="middle">4</text>
<rect x="702.3" y="87.95" width="55" height="55.2" fill="#f4f4f4"/>
<rect x="729.8" y="87.95" width="27.5" height="55.2" fill="#f4f4f4"/>
<rect x="702.3" y="115.55" width="27.5" height="27.6" fill="#f4f4f4"/>
<rect x="729.8" y="115.55" width="27.5" height="27.6" fill="#f4f4f4"/>
<rect x="702.3" y="87.95" width="55" height="55.2" fill="none" stroke="#4d4d4d" stroke-width="1.1"/>
<text transform="translate(728.55,83.5) scale(1.22,1)" class="ml" style="font-size:9.9px" text-anchor="middle">B</text>
<text x="734.5" y="85.5" class="sub" text-anchor="middle">5</text>
<rect x="765" y="88.3" width="2.8" height="53.7" fill="url(#cb3)" stroke="#666" stroke-width="0.4"/>
<text x="769.7" y="92.25" class="cb">3.2</text>
<text x="769.7" y="98.44" class="cb">2.4</text>
<text x="769.7" y="104.62" class="cb">1.6</text>
<text x="769.7" y="110.81" class="cb">0.8</text>
<text x="769.7" y="117" class="cb">0.0</text>
<text x="768" y="123.19" class="cb">-0.8</text>
<text x="768" y="129.38" class="cb">-1.6</text>
<text x="768" y="135.56" class="cb">-2.4</text>
<text x="768" y="141.75" class="cb">-3.2</text>
<text transform="translate(445.9,156.7) scale(1.15,1)" class="kl" text-anchor="middle">κ</text>
<text x="450.8" y="158.3" class="ksub" text-anchor="middle">1</text>
<text x="447.4" y="170.9" class="tt" text-anchor="middle">l.c &gt; 1 month</text>
<path d="M422,179.7 L422.66,179.7 L423.32,179.7 L423.98,179.7 L424.63,179.7 L425.29,179.7 L425.95,179.7 L426.61,179.7 L427.27,179.7 L427.93,179.7 L428.59,179.7 L429.25,179.7 L429.9,179.7 L430.56,179.7 L431.22,179.7 L431.88,179.7 L432.54,179.7 L433.2,179.7 L433.86,179.7 L434.52,179.7 L435.18,179.7 L435.83,179.7 L436.49,179.7 L437.15,179.7 L437.81,179.7 L438.47,179.7 L439.13,179.7 L439.79,179.7 L440.44,179.7 L441.1,179.7 L441.76,179.7 L442.42,179.7 L443.08,179.7 L443.74,179.7 L444.4,179.7 L445.06,179.7 L445.71,179.7 L446.37,179.7 L447.03,179.7 L447.69,179.7 L448.35,179.7 L449.01,179.7 L449.67,179.7 L450.33,179.7 L450.99,179.7 L451.64,179.7 L452.3,179.7 L452.96,179.7 L453.62,179.7 L454.28,179.7 L454.94,179.7 L455.6,179.7 L456.25,179.7 L456.91,179.7 L457.57,179.7 L458.23,179.7 L458.89,179.7 L459.55,179.7 L460.21,179.7 L460.87,179.7 L461.52,179.7 L462.18,179.7 L462.84,179.7 L463.5,179.7 L464.16,179.7 L464.82,179.7 L465.48,179.7 L466.14,179.7 L466.8,179.7 L467.45,179.7 L468.11,179.7 L468.77,179.7 L469.43,179.7 L470.09,179.7 L470.75,179.7 L471.41,179.7 L472.06,179.7 L472.72,179.7 L473.38,179.7 L474.04,179.7 L474.7,179.7" fill="none" stroke="#3b5bb3" stroke-width="1.6" stroke-linejoin="round"/>
<path d="M432.54,230 v-1.3 M432.54,175.4 v1.3 M443.08,230 v-1.3 M443.08,175.4 v1.3 M453.62,230 v-1.3 M453.62,175.4 v1.3 M464.16,230 v-1.3 M464.16,175.4 v1.3 M422,190.85 h1.3 M474.7,190.85 h-1.3 M422,202 h1.3 M474.7,202 h-1.3 M422,213.15 h1.3 M474.7,213.15 h-1.3 M422,179.7 h1.3 M474.7,179.7 h-1.3 M422,224.3 h1.3 M474.7,224.3 h-1.3" stroke="#777" stroke-width="0.6" fill="none"/>
<rect x="422" y="175.4" width="52.7" height="54.6" fill="none" stroke="#4d4d4d" stroke-width="1.1"/>
<text x="420" y="238.6" class="tl" text-anchor="middle">0</text>
<text x="430.54" y="238.6" class="tl" text-anchor="middle">20</text>
<text x="441.08" y="238.6" class="tl" text-anchor="middle">40</text>
<text x="451.62" y="238.6" class="tl" text-anchor="middle">60</text>
<text x="462.16" y="238.6" class="tl" text-anchor="middle">80</text>
<text x="472.7" y="238.6" class="tl" text-anchor="middle">100</text>
<text transform="translate(516.35,156.7) scale(1.15,1)" class="kl" text-anchor="middle">κ</text>
<text x="521.25" y="158.3" class="ksub" text-anchor="middle">2</text>
<path d="M501.46,168.5 C502.16,166.6 503.46,167 504.26,167.9 S506.26,169.4 507.06,167.1" fill="none" stroke="#111" stroke-width="1.05" stroke-linecap="round"/>
<text x="514.45" y="170.9" class="tt" text-anchor="middle">l.c <tspan class="ghost">~</tspan> 5 days</text>
<path d="M492.3,179.7 L492.96,179.71 L493.62,179.72 L494.28,179.76 L494.94,179.8 L495.59,179.85 L496.25,179.92 L496.91,180 L497.57,180.09 L498.23,180.2 L498.89,180.31 L499.55,180.44 L500.2,180.58 L500.86,180.72 L501.52,180.88 L502.18,181.05 L502.84,181.23 L503.5,181.42 L504.16,181.62 L504.82,181.83 L505.48,182.05 L506.13,182.27 L506.79,182.51 L507.45,182.75 L508.11,183 L508.77,183.26 L509.43,183.52 L510.09,183.79 L510.75,184.07 L511.4,184.35 L512.06,184.64 L512.72,184.93 L513.38,185.23 L514.04,185.53 L514.7,185.83 L515.36,186.14 L516.01,186.45 L516.67,186.76 L517.33,187.08 L517.99,187.39 L518.65,187.71 L519.31,188.03 L519.97,188.35 L520.63,188.67 L521.28,188.98 L521.94,189.3 L522.6,189.62 L523.26,189.94 L523.92,190.25 L524.58,190.56 L525.24,190.87 L525.9,191.18 L526.56,191.49 L527.21,191.79 L527.87,192.09 L528.53,192.39 L529.19,192.68 L529.85,192.97 L530.51,193.25 L531.17,193.53 L531.83,193.81 L532.48,194.08 L533.14,194.34 L533.8,194.61 L534.46,194.86 L535.12,195.11 L535.78,195.36 L536.44,195.6 L537.1,195.84 L537.75,196.07 L538.41,196.29 L539.07,196.51 L539.73,196.73 L540.39,196.93 L541.05,197.14 L541.71,197.33 L542.37,197.53 L543.02,197.71 L543.68,197.89 L544.34,198.07 L545,198.24" fill="none" stroke="#3b5bb3" stroke-width="1.6" stroke-linejoin="round"/>
<path d="M502.84,230 v-1.3 M502.84,175.4 v1.3 M513.38,230 v-1.3 M513.38,175.4 v1.3 M523.92,230 v-1.3 M523.92,175.4 v1.3 M534.46,230 v-1.3 M534.46,175.4 v1.3 M492.3,190.85 h1.3 M545,190.85 h-1.3 M492.3,202 h1.3 M545,202 h-1.3 M492.3,213.15 h1.3 M545,213.15 h-1.3 M492.3,179.7 h1.3 M545,179.7 h-1.3 M492.3,224.3 h1.3 M545,224.3 h-1.3" stroke="#777" stroke-width="0.6" fill="none"/>
<rect x="492.3" y="175.4" width="52.7" height="54.6" fill="none" stroke="#4d4d4d" stroke-width="1.1"/>
<text x="490.3" y="238.6" class="tl" text-anchor="middle">0</text>
<text x="500.84" y="238.6" class="tl" text-anchor="middle">20</text>
<text x="511.38" y="238.6" class="tl" text-anchor="middle">40</text>
<text x="521.92" y="238.6" class="tl" text-anchor="middle">60</text>
<text x="532.46" y="238.6" class="tl" text-anchor="middle">80</text>
<text x="543" y="238.6" class="tl" text-anchor="middle">100</text>
<text transform="translate(586.8,156.7) scale(1.15,1)" class="kl" text-anchor="middle">κ</text>
<text x="591.7" y="158.3" class="ksub" text-anchor="middle">3</text>
<path d="M571.9,168.5 C572.6,166.6 573.9,167 574.7,167.9 S576.7,169.4 577.5,167.1" fill="none" stroke="#111" stroke-width="1.05" stroke-linecap="round"/>
<text x="589.85" y="170.9" class="tt" text-anchor="middle">l.c <tspan class="ghost">~</tspan> 21 hours</text>
<path d="M562.6,179.7 L563.26,179.93 L563.92,180.47 L564.58,181.27 L565.24,182.29 L565.89,183.48 L566.55,184.83 L567.21,186.3 L567.87,187.85 L568.53,189.45 L569.19,191.08 L569.85,192.7 L570.5,194.3 L571.16,195.85 L571.82,197.33 L572.48,198.73 L573.14,200.02 L573.8,201.21 L574.46,202.29 L575.12,203.25 L575.77,204.08 L576.43,204.8 L577.09,205.39 L577.75,205.87 L578.41,206.25 L579.07,206.53 L579.73,206.71 L580.39,206.81 L581.05,206.83 L581.7,206.79 L582.36,206.69 L583.02,206.55 L583.68,206.37 L584.34,206.16 L585,205.92 L585.66,205.68 L586.32,205.42 L586.97,205.16 L587.63,204.9 L588.29,204.64 L588.95,204.4 L589.61,204.17 L590.27,203.95 L590.93,203.74 L591.59,203.55 L592.24,203.38 L592.9,203.22 L593.56,203.09 L594.22,202.96 L594.88,202.85 L595.54,202.76 L596.2,202.68 L596.86,202.61 L597.51,202.56 L598.17,202.51 L598.83,202.48 L599.49,202.45 L600.15,202.43 L600.81,202.41 L601.47,202.4 L602.12,202.39 L602.78,202.39 L603.44,202.39 L604.1,202.39 L604.76,202.4 L605.42,202.4 L606.08,202.41 L606.74,202.41 L607.39,202.42 L608.05,202.43 L608.71,202.43 L609.37,202.44 L610.03,202.45 L610.69,202.45 L611.35,202.46 L612.01,202.46 L612.66,202.47 L613.32,202.47 L613.98,202.47 L614.64,202.48 L615.3,202.48" fill="none" stroke="#3b5bb3" stroke-width="1.6" stroke-linejoin="round"/>
<path d="M573.14,230 v-1.3 M573.14,175.4 v1.3 M583.68,230 v-1.3 M583.68,175.4 v1.3 M594.22,230 v-1.3 M594.22,175.4 v1.3 M604.76,230 v-1.3 M604.76,175.4 v1.3 M562.6,190.85 h1.3 M615.3,190.85 h-1.3 M562.6,202 h1.3 M615.3,202 h-1.3 M562.6,213.15 h1.3 M615.3,213.15 h-1.3 M562.6,179.7 h1.3 M615.3,179.7 h-1.3 M562.6,224.3 h1.3 M615.3,224.3 h-1.3" stroke="#777" stroke-width="0.6" fill="none"/>
<rect x="562.6" y="175.4" width="52.7" height="54.6" fill="none" stroke="#4d4d4d" stroke-width="1.1"/>
<text x="560.6" y="238.6" class="tl" text-anchor="middle">0</text>
<text x="571.14" y="238.6" class="tl" text-anchor="middle">20</text>
<text x="581.68" y="238.6" class="tl" text-anchor="middle">40</text>
<text x="592.22" y="238.6" class="tl" text-anchor="middle">60</text>
<text x="602.76" y="238.6" class="tl" text-anchor="middle">80</text>
<text x="613.3" y="238.6" class="tl" text-anchor="middle">100</text>
<text transform="translate(657.25,156.7) scale(1.15,1)" class="kl" text-anchor="middle">κ</text>
<text x="662.15" y="158.3" class="ksub" text-anchor="middle">4</text>
<path d="M642.05,168.5 C642.75,166.6 644.05,167 644.85,167.9 S646.85,169.4 647.65,167.1" fill="none" stroke="#111" stroke-width="1.05" stroke-linecap="round"/>
<text x="660" y="170.9" class="tt" text-anchor="middle">l.c <tspan class="ghost">~</tspan> 27 hours</text>
<path d="M632.9,179.7 L633.56,179.73 L634.22,179.81 L634.88,179.96 L635.53,180.15 L636.19,180.41 L636.85,180.71 L637.51,181.06 L638.17,181.47 L638.83,181.91 L639.49,182.4 L640.15,182.92 L640.8,183.48 L641.46,184.07 L642.12,184.69 L642.78,185.33 L643.44,185.99 L644.1,186.66 L644.76,187.35 L645.42,188.04 L646.07,188.74 L646.73,189.43 L647.39,190.13 L648.05,190.81 L648.71,191.49 L649.37,192.15 L650.03,192.8 L650.69,193.43 L651.35,194.05 L652,194.64 L652.66,195.21 L653.32,195.76 L653.98,196.28 L654.64,196.78 L655.3,197.25 L655.96,197.7 L656.62,198.12 L657.27,198.52 L657.93,198.89 L658.59,199.24 L659.25,199.56 L659.91,199.86 L660.57,200.14 L661.23,200.39 L661.88,200.63 L662.54,200.84 L663.2,201.04 L663.86,201.22 L664.52,201.38 L665.18,201.53 L665.84,201.66 L666.5,201.78 L667.15,201.89 L667.81,201.98 L668.47,202.07 L669.13,202.15 L669.79,202.21 L670.45,202.27 L671.11,202.33 L671.77,202.37 L672.42,202.41 L673.08,202.45 L673.74,202.48 L674.4,202.51 L675.06,202.53 L675.72,202.55 L676.38,202.57 L677.04,202.59 L677.69,202.6 L678.35,202.61 L679.01,202.62 L679.67,202.63 L680.33,202.63 L680.99,202.64 L681.65,202.64 L682.31,202.65 L682.96,202.65 L683.62,202.66 L684.28,202.66 L684.94,202.66 L685.6,202.66" fill="none" stroke="#3b5bb3" stroke-width="1.6" stroke-linejoin="round"/>
<path d="M643.44,230 v-1.3 M643.44,175.4 v1.3 M653.98,230 v-1.3 M653.98,175.4 v1.3 M664.52,230 v-1.3 M664.52,175.4 v1.3 M675.06,230 v-1.3 M675.06,175.4 v1.3 M632.9,190.85 h1.3 M685.6,190.85 h-1.3 M632.9,202 h1.3 M685.6,202 h-1.3 M632.9,213.15 h1.3 M685.6,213.15 h-1.3 M632.9,179.7 h1.3 M685.6,179.7 h-1.3 M632.9,224.3 h1.3 M685.6,224.3 h-1.3" stroke="#777" stroke-width="0.6" fill="none"/>
<rect x="632.9" y="175.4" width="52.7" height="54.6" fill="none" stroke="#4d4d4d" stroke-width="1.1"/>
<text x="630.9" y="238.6" class="tl" text-anchor="middle">0</text>
<text x="641.44" y="238.6" class="tl" text-anchor="middle">20</text>
<text x="651.98" y="238.6" class="tl" text-anchor="middle">40</text>
<text x="662.52" y="238.6" class="tl" text-anchor="middle">60</text>
<text x="673.06" y="238.6" class="tl" text-anchor="middle">80</text>
<text x="683.6" y="238.6" class="tl" text-anchor="middle">100</text>
<text transform="translate(727.7,156.7) scale(1.15,1)" class="kl" text-anchor="middle">κ</text>
<text x="732.6" y="158.3" class="ksub" text-anchor="middle">5</text>
<path d="M713.01,168.5 C713.71,166.6 715.01,167 715.81,167.9 S717.81,169.4 718.61,167.1" fill="none" stroke="#111" stroke-width="1.05" stroke-linecap="round"/>
<text x="726" y="170.9" class="tt" text-anchor="middle">l.c <tspan class="ghost">~</tspan> 4 days</text>
<path d="M703.2,179.7 L703.86,179.7 L704.52,179.71 L705.18,179.72 L705.84,179.74 L706.49,179.76 L707.15,179.79 L707.81,179.82 L708.47,179.86 L709.13,179.9 L709.79,179.95 L710.45,180 L711.11,180.06 L711.76,180.12 L712.42,180.19 L713.08,180.26 L713.74,180.34 L714.4,180.42 L715.06,180.5 L715.72,180.59 L716.38,180.69 L717.03,180.79 L717.69,180.89 L718.35,181 L719.01,181.11 L719.67,181.23 L720.33,181.35 L720.99,181.47 L721.65,181.6 L722.3,181.73 L722.96,181.86 L723.62,182 L724.28,182.14 L724.94,182.29 L725.6,182.44 L726.26,182.59 L726.92,182.75 L727.57,182.91 L728.23,183.07 L728.89,183.23 L729.55,183.4 L730.21,183.57 L730.87,183.74 L731.53,183.92 L732.19,184.1 L732.84,184.28 L733.5,184.46 L734.16,184.64 L734.82,184.83 L735.48,185.02 L736.14,185.21 L736.8,185.4 L737.46,185.59 L738.11,185.78 L738.77,185.98 L739.43,186.18 L740.09,186.37 L740.75,186.57 L741.41,186.77 L742.07,186.97 L742.73,187.17 L743.38,187.38 L744.04,187.58 L744.7,187.78 L745.36,187.99 L746.02,188.19 L746.68,188.39 L747.34,188.6 L748,188.8 L748.65,189 L749.31,189.21 L749.97,189.41 L750.63,189.61 L751.29,189.81 L751.95,190.02 L752.61,190.22 L753.27,190.42 L753.92,190.62 L754.58,190.81 L755.24,191.01 L755.9,191.21" fill="none" stroke="#3b5bb3" stroke-width="1.6" stroke-linejoin="round"/>
<path d="M713.74,230 v-1.3 M713.74,175.4 v1.3 M724.28,230 v-1.3 M724.28,175.4 v1.3 M734.82,230 v-1.3 M734.82,175.4 v1.3 M745.36,230 v-1.3 M745.36,175.4 v1.3 M703.2,190.85 h1.3 M755.9,190.85 h-1.3 M703.2,202 h1.3 M755.9,202 h-1.3 M703.2,213.15 h1.3 M755.9,213.15 h-1.3 M703.2,179.7 h1.3 M755.9,179.7 h-1.3 M703.2,224.3 h1.3 M755.9,224.3 h-1.3" stroke="#777" stroke-width="0.6" fill="none"/>
<rect x="703.2" y="175.4" width="52.7" height="54.6" fill="none" stroke="#4d4d4d" stroke-width="1.1"/>
<text x="701.2" y="238.6" class="tl" text-anchor="middle">0</text>
<text x="711.74" y="238.6" class="tl" text-anchor="middle">20</text>
<text x="722.28" y="238.6" class="tl" text-anchor="middle">40</text>
<text x="732.82" y="238.6" class="tl" text-anchor="middle">60</text>
<text x="743.36" y="238.6" class="tl" text-anchor="middle">80</text>
<text x="753.9" y="238.6" class="tl" text-anchor="middle">100</text>
<text x="418.1" y="181.6" class="tl" text-anchor="end">1.0</text>
<text x="418.1" y="192.1" class="tl" text-anchor="end">0.5</text>
<text x="418.1" y="203.1" class="tl" text-anchor="end">0.0</text>
<text x="418.1" y="214.7" class="tl" text-anchor="end">0.5</text>
<text x="418.1" y="226.5" class="tl" text-anchor="end">-1.0</text>
<text transform="translate(401.7,202.4) rotate(-90)" class="al" text-anchor="middle">covariance</text>
<text x="591.8" y="251.4" class="al" style="font-size:10.45px" text-anchor="middle">distance in time (hours)</text>
</svg>
</body></html>
